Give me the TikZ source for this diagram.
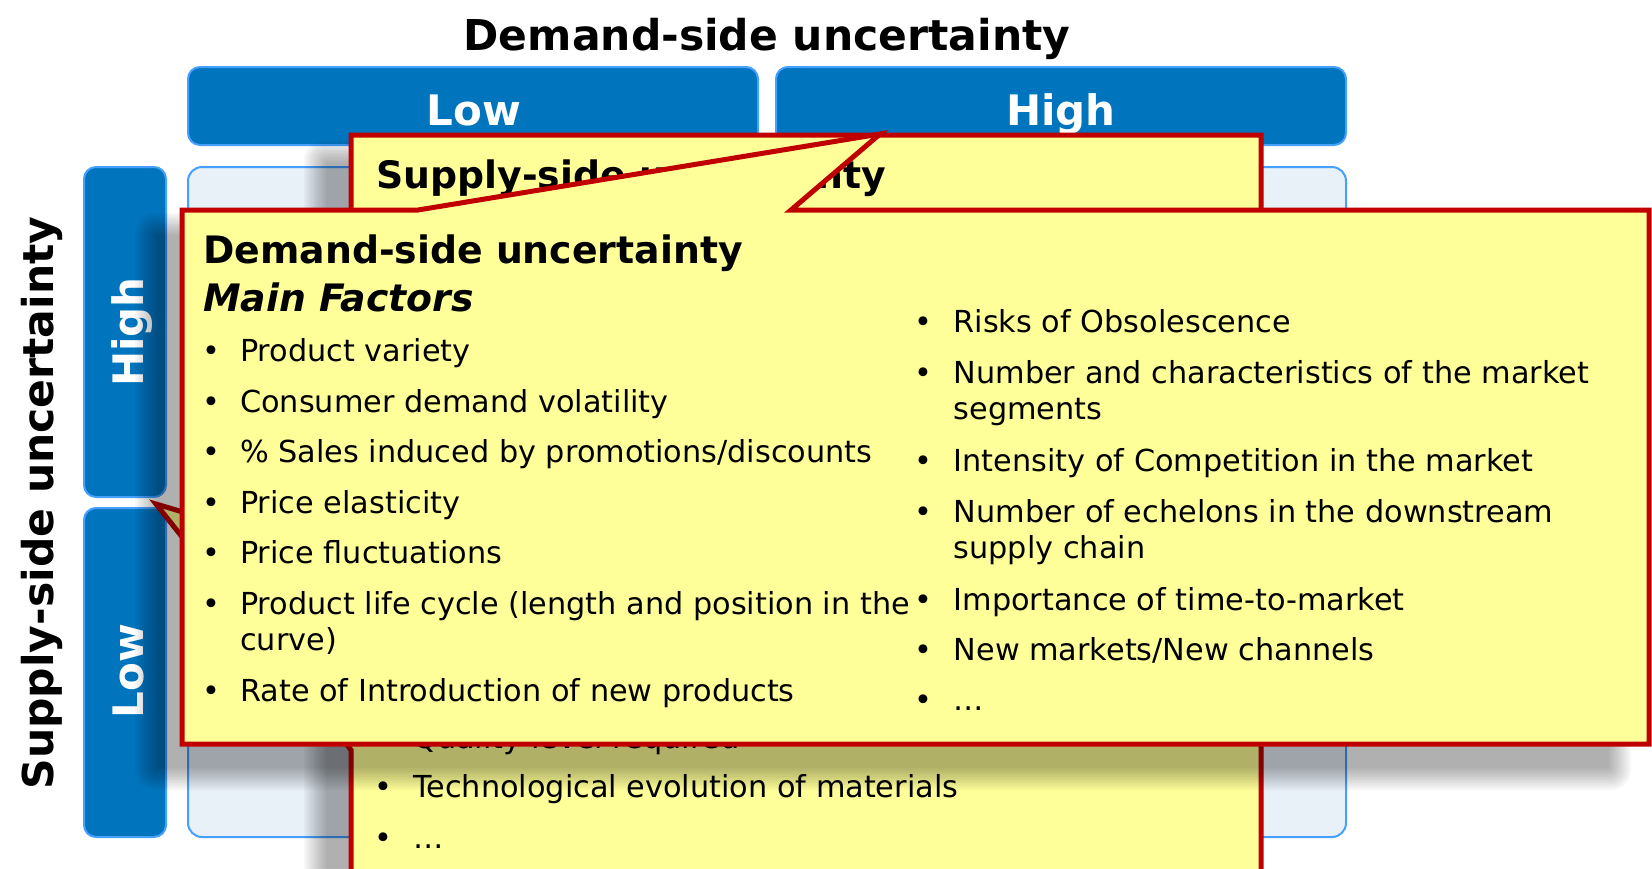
\documentclass[tikz,border=0pt]{standalone}
\usepackage{fontspec}
\setmainfont{DejaVu Sans}[BoldFont={DejaVu Sans Bold},ItalicFont={DejaVu Sans Oblique},BoldItalicFont={DejaVu Sans Bold Oblique}]
\definecolor{hdrblue}{RGB}{0,117,190}
\definecolor{hdredge}{RGB}{70,160,255}
\definecolor{cellfill}{RGB}{232,240,248}
\definecolor{noteyellow}{RGB}{255,255,153}
\definecolor{notered}{RGB}{192,0,0}
\tikzset{
  hdr/.style={fill=hdrblue, draw=hdredge, line width=2pt, rounded corners=12pt},
  cellbox/.style={fill=cellfill, draw=hdredge, line width=2pt, rounded corners=14pt},
  note/.style={fill=noteyellow, draw=notered, line width=5pt, line join=miter},
  bigtitle/.style={font=\fontsize{42.5}{50}\selectfont\bfseries, inner sep=0pt, anchor=base},
  hdrtext/.style={font=\fontsize{42}{50}\selectfont\bfseries, text=white, inner sep=0pt, anchor=base},
  notetitle/.style={font=\fontsize{37.8}{45}\selectfont\bfseries, anchor=base west, inner sep=0pt},
  notesub/.style={font=\fontsize{37.8}{45}\selectfont\bfseries\itshape, anchor=base west, inner sep=0pt},
  body/.style={font=\fontsize{30.3}{36}\selectfont, anchor=base west, inner sep=0pt},
  bul/.style={font=\fontsize{30.3}{36}\selectfont, anchor=base, inner sep=0pt},
}
\newcommand{\softshadow}[4]{%
  \foreach \k in {0,...,10}{%
    \fill[black, opacity=0.03, rounded corners={2+\k*1.8}] ({#1-\k*2.2},{#2-\k*2.2}) rectangle ({#3+\k*2.2},{#4+\k*2.2});
  }}
\begin{document}
\begin{tikzpicture}[x=1pt,y=-1pt]
\path[use as bounding box] (0,0) rectangle (1652,868);
\clip (0,0) rectangle (1652,868);
\fill[white] (0,0) rectangle (1652,868);

% titles
\node[bigtitle] (ttl) at (767,50.5) {Demand-side uncertainty};
\node[bigtitle, rotate=90] (ltl) at (53,503) {Supply-side uncertainty};

% header boxes
\draw[hdr] (188,67) rectangle (758,145);
\draw[hdr] (776,67) rectangle (1346,145);
\node[hdrtext] (tlow) at (474,125) {Low};
\node[hdrtext] (thigh) at (1061,125) {High};

% left boxes
\draw[hdr] (84,167) rectangle (166,497);
\draw[hdr] (84,508) rectangle (166,837);
\node[hdrtext, rotate=90] (lhigh) at (143,332) {High};
\node[hdrtext, rotate=90] (llow) at (143,671) {Low};

% cells
\draw[cellbox] (188,167) rectangle (758,497);
\draw[cellbox] (776,167) rectangle (1346,497);
\draw[cellbox] (188,508) rectangle (758,837);
\draw[cellbox] (776,508) rectangle (1346,837);

% supply-side callout
\softshadow{326}{162}{1225}{900}
\filldraw[note] (351,135) -- (1261,135) -- (1261,900) -- (351,900) -- (351,750) -- (156,504) -- (351,562) -- cycle;
\node[notetitle] (stitle) at (376,188) {Supply-side uncertainty};
\node[bul] (sb1) at (383,748) {•};
\node[body] (s1) at (413,748) {Quality level required};
\node[bul] (sb2) at (383,797) {•};
\node[body] (s2) at (413,797) {Technological evolution of materials};
\node[bul] (sb3) at (383,848) {•};
\node[body] (s3) at (413,848) {…};

% demand-side callout
\softshadow{157}{235}{1609}{768}
\filldraw[note] (182,210) -- (418,210) -- (880,134) -- (791,210) -- (1649,210) -- (1649,744) -- (182,744) -- cycle;
\node[notetitle] (dtitle) at (203,263) {Demand-side uncertainty};
\node[notesub] (dmain) at (203,311.7) {Main Factors};

\node[bul] (lb1) at (211,361.5) {•};
\node[body] (l1) at (240,361.5) {Product variety};
\node[bul] (lb2) at (211,412) {•};
\node[body] (l2) at (240,412) {Consumer demand volatility};
\node[bul] (lb3) at (211,462.5) {•};
\node[body] (l3) at (240,462.5) {\% Sales induced by promotions/discounts};
\node[bul] (lb4) at (211,513) {•};
\node[body] (l4) at (240,513) {Price elasticity};
\node[bul] (lb5) at (211,563.5) {•};
\node[body] (l5) at (240,563.5) {Price fluctuations};
\node[bul] (lb6) at (211,614) {•};
\node[body] (l6) at (240,614) {Product life cycle (length and position in the};
\node[body] (l6b) at (240,650.5) {curve)};
\node[bul] (lb7) at (211,701.5) {•};
\node[body] (l7) at (240,701.5) {Rate of Introduction of new products};

\node[bul] (rb1) at (923,332.7) {•};
\node[body] (r1) at (953.5,332.7) {Risks of Obsolescence};
\node[bul] (rb2) at (923,383.3) {•};
\node[body] (r2) at (953.5,383.3) {Number and characteristics of the market};
\node[body] (r2b) at (953.5,419.3) {segments};
\node[bul] (rb3) at (923,471.7) {•};
\node[body] (r3) at (953.5,471.7) {Intensity of Competition in the market};
\node[bul] (rb4) at (923,522.7) {•};
\node[body] (r4) at (953.5,522.7) {Number of echelons in the downstream};
\node[body] (r4b) at (953.5,558.3) {supply chain};
\node[bul] (rb5) at (923,610) {•};
\node[body] (r5) at (953.5,610) {Importance of time-to-market};
\node[bul] (rb6) at (923,660) {•};
\node[body] (r6) at (953.5,660) {New markets/New channels};
\node[bul] (rb7) at (923,710) {•};
\node[body] (r7) at (953.5,710) {…};
\end{tikzpicture}
\end{document}
